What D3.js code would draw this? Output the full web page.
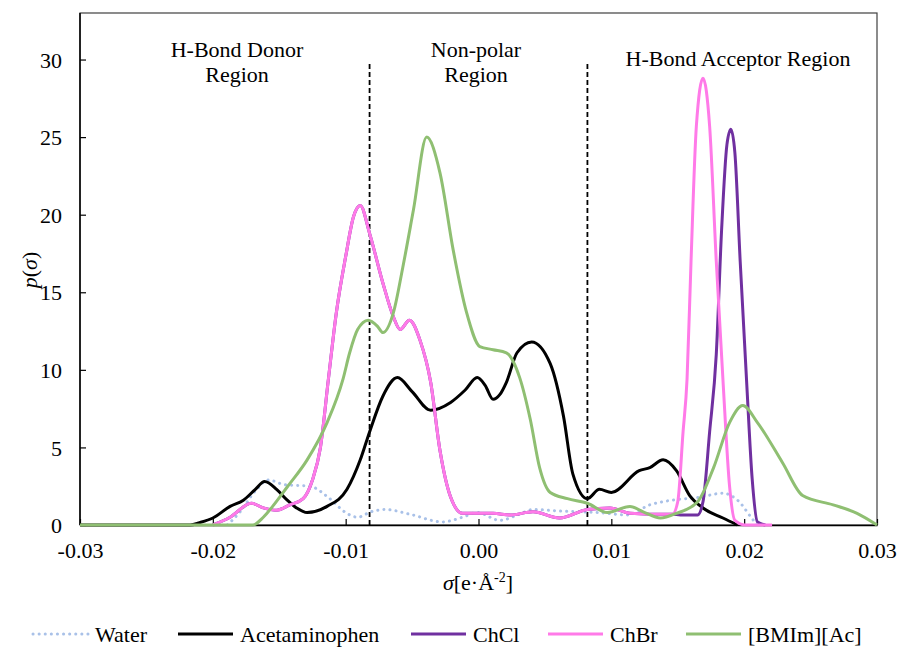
<!DOCTYPE html>
<html>
<head>
<meta charset="utf-8">
<script src="https://cdn.jsdelivr.net/npm/d3@7"></script>
<style>
  body { margin: 0; background: #fff; }
  svg text { font-family: "Liberation Serif", "Times New Roman", serif; fill: #000; }
</style>
</head>
<body>
<div id="chart"></div>
<script>
// sigma profiles
var waterSigma = [-0.0189, -0.018, -0.0168, -0.0158, -0.0146, -0.0127, -0.0112, -0.0100, -0.0091, -0.0081, -0.0070, -0.0052, -0.0027, -0.0012, -0.0001, 0.0016, 0.0031, 0.0041, 0.0061, 0.0091, 0.0112, 0.0129, 0.0142, 0.0167, 0.0184, 0.0195, 0.0207, 0.0210];
var waterP = [0, 0.8, 2.2, 2.9, 2.6, 2.5, 1.7, 0.8, 0.5, 0.85, 1.0, 0.7, 0.2, 0.5, 0.8, 0.3, 0.7, 1.0, 0.9, 0.8, 0.65, 1.3, 1.55, 1.8, 2.05, 1.6, 0.3, 0];

var acetSigma = [-0.03, -0.0217, -0.0210, -0.0200, -0.0187, -0.0177, -0.0168, -0.0161, -0.0152, -0.0144, -0.0137, -0.0129, -0.0114, -0.0099, -0.0089, -0.0082, -0.0072, -0.0061, -0.0050, -0.0036, -0.0021, -0.0010, -0.0001, 0.0005, 0.0011, 0.0016, 0.0021, 0.0029, 0.0040, 0.0054, 0.0064, 0.0071, 0.0082, 0.0091, 0.0100, 0.0121, 0.0129, 0.0139, 0.0149, 0.0159, 0.0169, 0.0184, 0.0195];
var acetP = [0, 0, 0.15, 0.45, 1.2, 1.6, 2.3, 2.8, 2.3, 1.6, 1.1, 0.8, 1.2, 2.3, 4.2, 6.0, 8.3, 9.5, 8.6, 7.4, 7.9, 8.7, 9.5, 9.0, 8.1, 8.4, 9.2, 11.1, 11.8, 10.4, 7.0, 3.3, 1.7, 2.3, 2.1, 3.5, 3.7, 4.2, 3.5, 1.9, 1.1, 0.45, 0];

// choline cation part, shared by ChCl and ChBr
var cholineSigma = [-0.0200, -0.0187, -0.0171, -0.0162, -0.0152, -0.0142, -0.0132, -0.0125, -0.0119, -0.0113, -0.0107, -0.0100, -0.0094, -0.0089, -0.0082, -0.0072, -0.0064, -0.0059, -0.0052, -0.0044, -0.0036, -0.0029, -0.0021, -0.0012, 0.0011, 0.0024, 0.0041, 0.0061, 0.0082, 0.0099, 0.0114, 0.0129, 0.0146];
var cholineP = [0, 0.5, 1.4, 1.1, 0.95, 1.3, 1.7, 2.9, 5.0, 9.4, 13.7, 17.3, 19.9, 20.6, 18.8, 15.6, 13.4, 12.6, 13.2, 11.9, 9.2, 4.8, 1.8, 0.75, 0.75, 0.65, 0.85, 0.45, 1.0, 1.1, 0.75, 0.7, 0.7];

var chclAnionSigma = [0.0152, 0.0165, 0.0169, 0.0174, 0.0179, 0.0183, 0.0187, 0.0190, 0.0193, 0.0197, 0.0202, 0.0206, 0.0210, 0.0216];
var chclAnionP = [0.65, 0.65, 1.5, 6, 11, 19, 24.5, 25.5, 24, 17, 9, 3, 0.2, 0];

var chbrAnionSigma = [0.0150, 0.0154, 0.0157, 0.0160, 0.0164, 0.0169, 0.0174, 0.0179, 0.0184, 0.0189, 0.0193, 0.0201, 0.0221];
var chbrAnionP = [1.5, 6, 9.4, 17, 25.7, 28.8, 25.7, 17, 9.4, 2.5, 0.3, 0, 0];

var bmimSigma = [-0.03, -0.0170, -0.0162, -0.0155, -0.0144, -0.0129, -0.0114, -0.0102, -0.0097, -0.0091, -0.0083, -0.0076, -0.0072, -0.0064, -0.0057, -0.0049, -0.0039, -0.0029, -0.0019, -0.0009, 0.0001, 0.0011, 0.0021, 0.0031, 0.0039, 0.0046, 0.0054, 0.0067, 0.0082, 0.0097, 0.0114, 0.0124, 0.0137, 0.0149, 0.0165, 0.0177, 0.0189, 0.0199, 0.0210, 0.0229, 0.0244, 0.0267, 0.0285, 0.0300];
var bmimP = [0, 0, 0.5, 1.2, 2.45, 4.2, 6.6, 9.4, 11.1, 12.6, 13.2, 12.8, 12.4, 13.7, 16.6, 20.3, 25.0, 22.7, 17.7, 13.7, 11.5, 11.3, 11.1, 9.5, 6.8, 3.7, 2.1, 1.7, 1.4, 0.8, 1.2, 0.85, 0.45, 0.75, 1.5, 3.7, 6.6, 7.7, 6.6, 4.0, 1.9, 1.3, 0.75, 0];

var xTicks = [-0.03, -0.02, -0.01, 0.00, 0.01, 0.02, 0.03];
var yTicks = [0, 5, 10, 15, 20, 25, 30];
var regionBounds = [-0.0082, 0.0082];

var seriesNames = ["Water", "Acetaminophen", "ChCl", "ChBr", "[BMIm][Ac]"];
var seriesColors = ["#a9c1e8", "#000000", "#7030a0", "#ff7ae8", "#8fbf72"];

function zip(xs, ys) {
  return xs.map(function(x, i) { return {s: x, p: ys[i]}; });
}

var series = [
  zip(waterSigma, waterP),
  zip(acetSigma, acetP),
  zip(cholineSigma.concat(chclAnionSigma), cholineP.concat(chclAnionP)),
  zip(cholineSigma.concat(chbrAnionSigma), cholineP.concat(chbrAnionP)),
  zip(bmimSigma, bmimP)
];

var W = 898, H = 648;
var plot = {left: 80, right: 877, top: 13, bot: 525};
var FONT = "'Liberation Serif', 'Times New Roman', serif";
var FS = "22px";

var svg = d3.select("#chart").append("svg")
  .attr("width", W)
  .attr("height", H)
  .attr("font-family", FONT);

var x = d3.scaleLinear().domain([-0.03, 0.03]).range([plot.left, plot.right]);
var y = d3.scaleLinear().domain([0, 33]).range([plot.bot, plot.top]);

// frame
svg.append("rect")
  .attr("x", plot.left).attr("y", plot.top)
  .attr("width", plot.right - plot.left)
  .attr("height", plot.bot - plot.top)
  .attr("fill", "none")
  .attr("stroke", "#404040")
  .attr("stroke-width", 1.2);

// axes, ticks pointing inside
var xAxis = d3.axisBottom(x).tickValues(xTicks).tickSizeInner(-6).tickSizeOuter(0)
  .tickFormat(function(d) { return d3.format(".2f")(d).replace("\u2212", "-"); });
var gx = svg.append("g")
  .attr("transform", "translate(0," + plot.bot + ")")
  .call(xAxis)
  .attr("font-family", FONT)
  .attr("font-size", FS);
gx.select(".domain").attr("stroke", "#000").attr("stroke-width", 1.5);
gx.selectAll(".tick line").attr("stroke", "#000").attr("stroke-width", 1.2);
gx.selectAll(".tick text")
  .attr("y", 33)
  .attr("dy", 0);

var yAxis = d3.axisLeft(y).tickValues(yTicks).tickSizeInner(-6).tickSizeOuter(0);
var gy = svg.append("g")
  .attr("transform", "translate(" + plot.left + ",0)")
  .call(yAxis)
  .attr("font-family", FONT)
  .attr("font-size", FS);
gy.select(".domain").attr("stroke", "#000").attr("stroke-width", 1.5)
  .attr("d", "M0," + plot.bot + "V" + plot.top);
gy.selectAll(".tick line").attr("stroke", "#000").attr("stroke-width", 1.2);
gy.selectAll(".tick text")
  .attr("x", -18)
  .attr("dy", "0.35em");

// region dividers
svg.selectAll(".divider")
  .data(regionBounds)
  .enter()
  .append("line")
  .attr("class", "divider")
  .attr("x1", function(d) { return x(d); })
  .attr("x2", function(d) { return x(d); })
  .attr("y1", y(0))
  .attr("y2", y(29.8))
  .attr("stroke", "#000")
  .attr("stroke-width", 1.8)
  .attr("stroke-dasharray", "5,3");

// curves
var line = d3.line()
  .x(function(d) { return x(d.s); })
  .y(function(d) { return y(d.p); })
  .curve(d3.curveMonotoneX);

series.forEach(function(data, i) {
  var path = svg.append("path")
    .datum(data)
    .attr("d", line)
    .attr("fill", "none")
    .attr("stroke", seriesColors[i])
    .attr("stroke-width", 3)
    .attr("stroke-linejoin", "round");
  if (i == 0) {
    path.attr("stroke-dasharray", "0.1,6").attr("stroke-linecap", "round");
  }
});

// region labels
var labels = [
  {t: "H-Bond Donor", cx: 237, cy: 57},
  {t: "Region", cx: 237, cy: 82},
  {t: "Non-polar", cx: 476, cy: 57},
  {t: "Region", cx: 476, cy: 82},
  {t: "H-Bond Acceptor Region", cx: 738, cy: 66}
];
svg.selectAll(".regionLabel")
  .data(labels)
  .enter()
  .append("text")
  .attr("class", "regionLabel")
  .attr("x", function(d) { return d.cx; })
  .attr("y", function(d) { return d.cy; })
  .attr("text-anchor", "middle")
  .style("font-size", FS)
  .text(function(d) { return d.t; });

// axis titles
var xt = svg.append("text")
  .attr("x", 478).attr("y", 590)
  .attr("text-anchor", "middle")
  .style("font-size", FS);
xt.append("tspan").style("font-style", "italic").text("σ");
xt.append("tspan").text("[e·Å");
xt.append("tspan").attr("dy", -8).style("font-size", "14px").text("-2");
xt.append("tspan").attr("dy", 8).text("]");

var yt = svg.append("text")
  .attr("transform", "translate(37,270) rotate(-90)")
  .attr("text-anchor", "middle")
  .style("font-size", FS);
yt.append("tspan").style("font-style", "italic").text("p");
yt.append("tspan").text("(");
yt.append("tspan").style("font-style", "italic").text("σ");
yt.append("tspan").text(")");

// legend
var legendX = [33, 178, 411, 548, 686];
var legend = svg.selectAll(".legendItem")
  .data(seriesNames)
  .enter()
  .append("g")
  .attr("class", "legendItem")
  .attr("transform", function(d, i) { return "translate(" + legendX[i] + ",634)"; });

legend.append("line")
  .attr("x1", 0).attr("x2", 55)
  .attr("y1", 0).attr("y2", 0)
  .attr("stroke", function(d, i) { return seriesColors[i]; })
  .attr("stroke-width", 3)
  .attr("stroke-dasharray", function(d, i) { return i == 0 ? "0.1,6" : null; })
  .attr("stroke-linecap", function(d, i) { return i == 0 ? "round" : "butt"; });

legend.append("text")
  .attr("x", 62)
  .attr("y", 0)
  .attr("dy", "0.35em")
  .style("font-size", FS)
  .text(function(d) { return d; });
</script>
</body>
</html>
